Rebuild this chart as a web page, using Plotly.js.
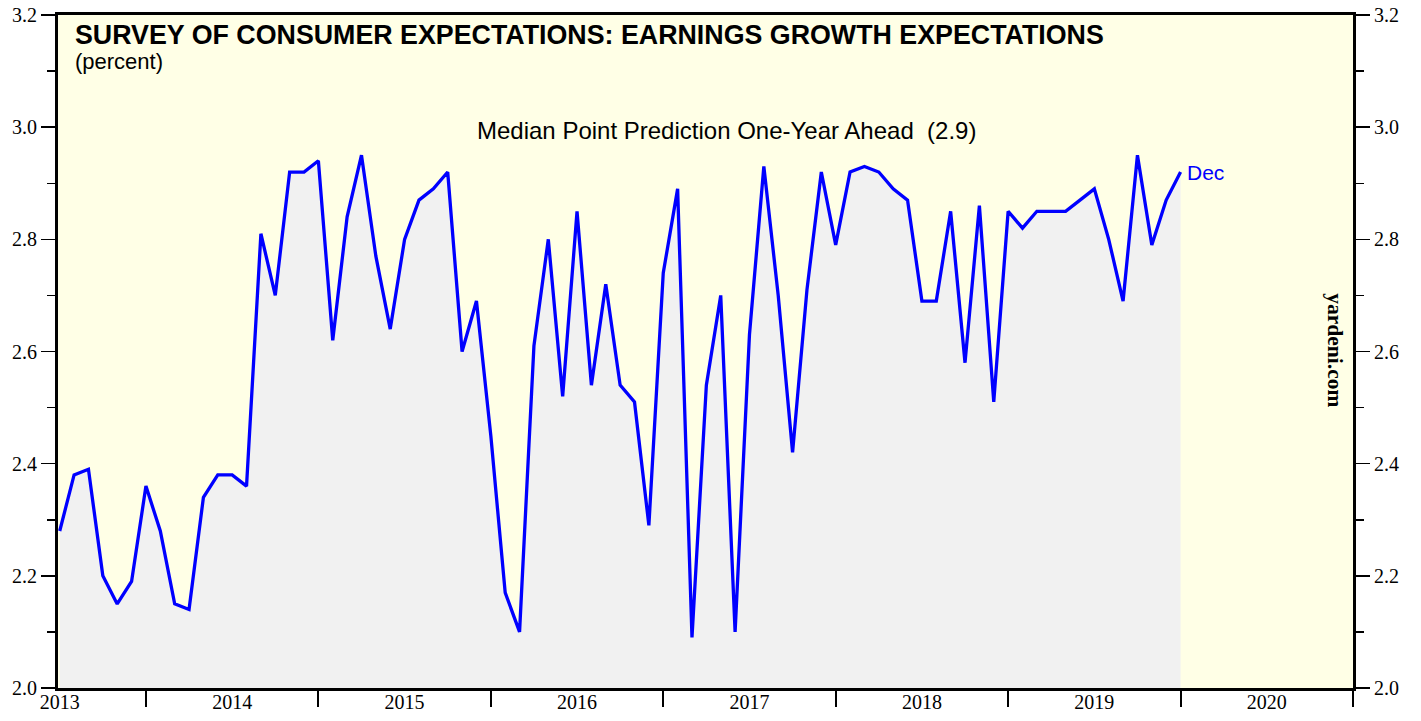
<!DOCTYPE html>
<html>
<head>
<meta charset="utf-8">
<script src="https://cdn.plot.ly/plotly-3.0.1.min.js"></script>
<style>
  html, body { margin: 0; padding: 0; background: #ffffff; }
  #chart { width: 1421px; height: 721px; }
</style>
</head>
<body>
<div id="chart"></div>
<script>
// ---- Data (monthly, Jun 2013 - Dec 2019) ----
const startYear = 2013;
const startMonth = 6; // June
const earningsGrowth = [
  // 2013 Jun-Dec
  2.28, 2.38, 2.39, 2.20, 2.15, 2.19, 2.36,
  // 2014
  2.28, 2.15, 2.14, 2.34, 2.38, 2.38, 2.36, 2.81, 2.70, 2.92, 2.92, 2.94,
  // 2015
  2.62, 2.84, 2.95, 2.77, 2.64, 2.80, 2.87, 2.89, 2.92, 2.60, 2.69, 2.45,
  // 2016
  2.17, 2.10, 2.61, 2.80, 2.52, 2.85, 2.54, 2.72, 2.54, 2.51, 2.29, 2.74,
  // 2017
  2.89, 2.09, 2.54, 2.70, 2.10, 2.63, 2.93, 2.70, 2.42, 2.71, 2.92, 2.79,
  // 2018
  2.92, 2.93, 2.92, 2.89, 2.87, 2.69, 2.69, 2.85, 2.58, 2.86, 2.51, 2.85,
  // 2019
  2.82, 2.85, 2.85, 2.85, 2.87, 2.89, 2.80, 2.69, 2.95, 2.79, 2.87, 2.92
];
const yearLabels = ["2013", "2014", "2015", "2016", "2017", "2018", "2019", "2020"];
const yTickVals = [2.0, 2.2, 2.4, 2.6, 2.8, 3.0, 3.2];
const yTickText = ["2.0", "2.2", "2.4", "2.6", "2.8", "3.0", "3.2"];
const chartTitle = "SURVEY OF CONSUMER EXPECTATIONS: EARNINGS GROWTH EXPECTATIONS";
const chartUnit = "(percent)";
const seriesLabel = "Median Point Prediction One-Year Ahead  (2.9)";
const lastLabel = "Dec";
const sourceLabel = "yardeni.com";

// x position: decimal year at end of each month
const xVals = earningsGrowth.map((_, i) => startYear + (startMonth + i) / 12);
const yearBoundaries = yearLabels.map(y => Number(y) + 1);
const yearMids = yearLabels.map(y => Number(y) + 0.5);

const xRange = [2013.49, 2021.0];
const yRange = [2.0, 3.2];

const serif = "Liberation Serif, Times New Roman, serif";
const sans = "Liberation Sans, Arial, sans-serif";

const traces = [
  {
    x: xVals, y: earningsGrowth, xaxis: "x", yaxis: "y",
    type: "scatter", mode: "lines",
    line: { color: "#0000ff", width: 3.3 },
    fill: "tozeroy", fillcolor: "#f1f1f1",
    hoverinfo: "x+y", showlegend: false
  },
  {
    x: [null], y: [null], xaxis: "x2", yaxis: "y2",
    type: "scatter", mode: "lines", hoverinfo: "skip", showlegend: false
  }
];

const yCommon = {
  range: yRange, tickmode: "array", tickvals: yTickVals, ticktext: yTickText,
  ticks: "outside", ticklen: 14, tickwidth: 1.5, tickcolor: "#000",
  minor: { dtick: 0.1, tick0: 2.0, ticks: "outside", ticklen: 8, tickwidth: 1.5, tickcolor: "#000", showgrid: false },
  showgrid: false, zeroline: false, showline: true, linecolor: "#000", linewidth: 3,
  tickfont: { family: serif, size: 20, color: "#000" }, fixedrange: true
};

const layout = {
  width: 1421, height: 721,
  margin: { l: 58, r: 68, t: 15, b: 33, pad: 0 },
  paper_bgcolor: "#ffffff",
  plot_bgcolor: "#ffffe6",
  showlegend: false,
  xaxis: {
    range: xRange, tickmode: "array", tickvals: yearBoundaries,
    ticktext: yearBoundaries.map(() => ""),
    ticks: "outside", ticklen: 16, tickwidth: 2, tickcolor: "#000",
    showgrid: false, zeroline: false, showline: true, mirror: true,
    linecolor: "#000", linewidth: 3, fixedrange: true
  },
  xaxis2: {
    range: xRange, overlaying: "x", anchor: "y", side: "bottom",
    tickmode: "array", tickvals: yearMids, ticktext: yearLabels,
    ticks: "", showline: false, showgrid: false, zeroline: false,
    tickfont: { family: serif, size: 20, color: "#000" }, fixedrange: true
  },
  yaxis: Object.assign({}, yCommon, { side: "left" }),
  yaxis2: Object.assign({}, yCommon, { side: "right", overlaying: "y", anchor: "x" }),
  annotations: [
    {
      text: "<b>" + chartTitle + "</b>", xref: "paper", yref: "paper",
      x: 0.0116, y: 0.971, xanchor: "left", yanchor: "middle", showarrow: false,
      font: { family: sans, size: 26.8, color: "#000" }
    },
    {
      text: chartUnit, xref: "paper", yref: "paper",
      x: 0.0116, y: 0.931, xanchor: "left", yanchor: "middle", showarrow: false,
      font: { family: sans, size: 22, color: "#000" }
    },
    {
      text: seriesLabel, xref: "paper", yref: "paper",
      x: 0.516, y: 0.828, xanchor: "center", yanchor: "middle", showarrow: false,
      font: { family: sans, size: 24, color: "#000" }
    },
    {
      text: lastLabel, xref: "x", yref: "y",
      x: xVals[xVals.length - 1], y: earningsGrowth[earningsGrowth.length - 1],
      xanchor: "left", yanchor: "middle", xshift: 4, showarrow: false,
      font: { family: sans, size: 21, color: "#0000ff" }
    },
    {
      text: "<b>" + sourceLabel + "</b>", xref: "paper", yref: "paper",
      x: 0.986, y: 0.502, xanchor: "center", yanchor: "middle", showarrow: false,
      textangle: 90,
      font: { family: serif, size: 21.5, color: "#000" }
    }
  ]
};

Plotly.newPlot("chart", traces, layout, { displayModeBar: false, staticPlot: true });
</script>
</body>
</html>
